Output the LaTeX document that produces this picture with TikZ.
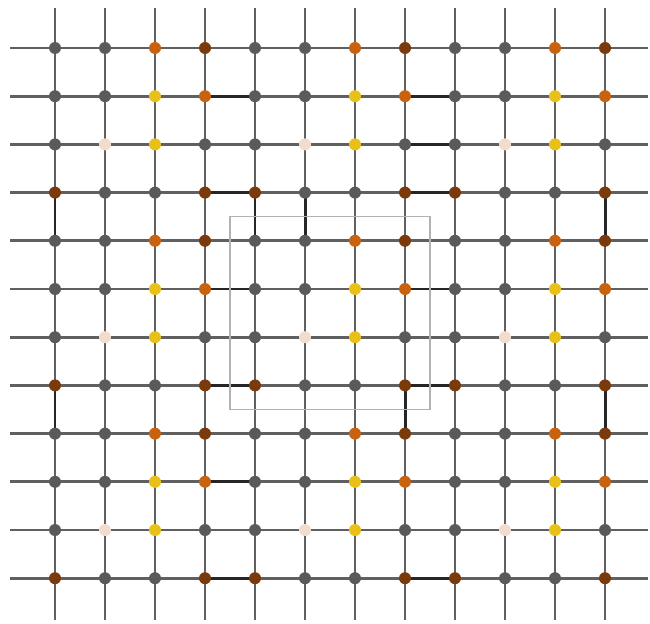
\documentclass[tikz,border=0pt]{standalone}
\usetikzlibrary{calc}
\definecolor{bondgray}{HTML}{606060}
\definecolor{siteG}{HTML}{5A5A5A}
\definecolor{siteO}{HTML}{C8620E}
\definecolor{siteB}{HTML}{7A3A0C}
\definecolor{siteY}{HTML}{E8C018}
\definecolor{siteP}{HTML}{F2DCCD}
\begin{document}
\begin{tikzpicture}[
  site/.style={circle, inner sep=0pt, minimum size=0.24cm},
  bond/.style={draw=bondgray, line width=1.6pt},
  dimer/.style={draw=black!85, line width=1.7pt},
  cell/.style={draw=black!30, line width=0.9pt}
]
\useasboundingbox (0,0) rectangle (13,12.46);

% ===== lattice points =====
\foreach \r in {0,...,11}
  \foreach \c in {0,...,11}
    \coordinate (p\r-\c) at ({1.1+\c},{11.5-0.964*\r});

% ends of the lines
\foreach \i in {0,...,11} {
  \coordinate (w\i) at (0.2,{11.5-0.964*\i});
  \coordinate (e\i) at (12.96,{11.5-0.964*\i});
  \coordinate (n\i) at ({1.1+\i},12.3);
  \coordinate (s\i) at ({1.1+\i},0.06);
}

% ===== bonds =====
\foreach \i in {0,...,11} {
  \draw[bond] (w\i) -- (e\i);
  \draw[bond] (n\i) -- (s\i);
}

% ===== dimers =====
\foreach \r/\a/\b in {1/3/4, 1/7/8, 2/7/8, 3/3/4, 3/7/8, 5/3/4, 5/7/8,
                      7/3/4, 7/7/8, 9/3/4, 11/3/4, 11/7/8}
  \draw[dimer] (p\r-\a) -- (p\r-\b);
\foreach \c/\a/\b in {0/3/4, 0/7/8, 4/3/4, 5/3/4, 7/7/8, 11/3/4, 11/7/8}
  \draw[dimer] (p\a-\c) -- (p\b-\c);

% ===== unit cell =====
\draw[cell] ($(p3-3)!0.5!(p4-4)$) rectangle ($(p7-7)!0.5!(p8-8)$);

% ===== sites =====
\foreach \r in {0,...,11}
  \foreach \c in {0,...,11} {
    \pgfmathtruncatemacro\k{4*mod(\r,4)+mod(\c,4)}
    \pgfmathsetmacro\col{{"G","G","O","B","G","G","Y","O","G","P","Y","G","B","G","G","B"}[\k]}
    \node[site, fill=site\col] (v\r-\c) at (p\r-\c) {};
  }

\end{tikzpicture}
\end{document}
